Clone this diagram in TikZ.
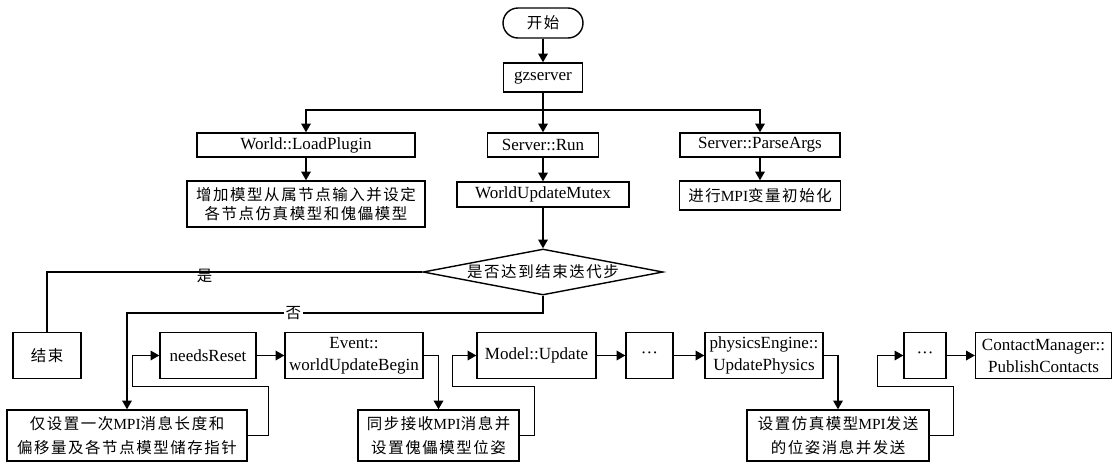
\documentclass[tikz,border=0pt]{standalone}
\usepackage{fontspec}
\setmainfont{Liberation Serif}
\newfontfamily\cjk[LetterSpace=10]{Noto Sans CJK SC}
\usetikzlibrary{arrows.meta, shapes.geometric, calc}
\newcommand{\mpitext}{{\rmfamily MPI}}

\begin{document}
\begin{tikzpicture}[
  x=0.02cm, y=-0.02cm,
  >={Triangle[length=5pt,width=5.5pt]},
  line width=0.8pt,
  proc/.style={draw, rectangle, inner sep=0pt, align=center,
    font=\fontsize{9.7pt}{12.5pt}\selectfont},
  cn/.style={font=\cjk\fontsize{8.8pt}{14pt}\selectfont},
  row/.style={minimum height=0.92cm},
  decide/.style={draw, diamond, aspect=5.2, inner sep=0pt,
    minimum width=4.8cm, minimum height=0.92cm}
]
\useasboundingbox (0,0) rectangle (1118,464);

% Top part
\node[proc, cn, rounded corners=0.3cm, minimum width=1.6cm, minimum height=0.6cm] (start) at (543,23) {开始};
\node[proc, minimum width=1.58cm, minimum height=0.58cm] (gz) at (543,77.5) {gzserver};
\coordinate (split) at (543,110);

\node[proc, minimum width=4.36cm, minimum height=0.48cm] (load) at (306,145) {World::LoadPlugin};
\node[proc, minimum width=2.22cm, minimum height=0.48cm] (run) at (543,145) {Server::Run};
\node[proc, minimum width=3.2cm, minimum height=0.48cm] (parse) at (760,145) {Server::ParseArgs};

\node[proc, cn, minimum width=4.76cm, minimum height=0.92cm] (addm) at (306,204) {增加模型从属节点输入并设定\\[-3pt]各节点仿真模型和傀儡模型};
\node[proc, minimum width=3.44cm, minimum height=0.5cm] (wum) at (543,194.5) {WorldUpdateMutex};
\node[proc, cn, minimum width=3.22cm, minimum height=0.58cm] (mpiinit) at (760,195.5) {进行\mpitext 变量初始化};

\node[decide, cn] (dec) at (543,272) {是否达到结束迭代步};
\coordinate (no) at (543,313);

% Loop row
\node[proc, cn, row, minimum width=1.36cm] (end) at (47,355.5) {结束};
\node[proc, row, minimum width=1.92cm] (needs) at (208,355.5) {needsReset};
\node[proc, row, minimum width=2.76cm] (event) at (354,355.5) {Event::\\worldUpdateBegin};
\node[proc, row, minimum width=2.38cm] (model) at (536.5,355.5) {Model::Update};
\node[proc, row, minimum width=0.94cm] (dots1) at (649.5,355.5) {···};
\node[proc, row, minimum width=2.36cm] (phys) at (764,355.5) {physicsEngine::\\UpdatePhysics};
\node[proc, row, minimum width=0.84cm] (dots2) at (925,355.5) {···};
\node[proc, row, minimum width=2.72cm] (contact) at (1043.5,355.5) {ContactManager::\\PublishContacts};

% MPI steps
\node[proc, cn, minimum width=4.8cm, minimum height=1.02cm] (once) at (127,435.5) {仅设置一次\mpitext 消息长度和\\偏移量及各节点模型储存指针};
\node[proc, cn, minimum width=3.22cm, minimum height=1.02cm] (sync) at (438.5,435.5) {同步接收\mpitext 消息并\\设置傀儡模型位姿};
\node[proc, cn, minimum width=3.64cm, minimum height=1.02cm] (send) at (838,435.5) {设置仿真模型\mpitext 发送\\的位姿消息并发送};

% Connectors
\foreach \a/\b in {start/gz, load/addm, run/wum, parse/mpiinit, wum/dec,
  needs/event, model/dots1, dots1/phys, dots2/contact}
  \draw[->] (\a) -- (\b);
\draw (gz) -- (split);
\draw[->] (split) -| (load);
\draw[->] (split) -- (run);
\draw[->] (split) -| (parse);

\draw (dec.west) -| (end.north) node[pos=0.29, yshift=-2pt, cn] {是};
\draw[->] (dec.south) -- (no) -| (once.north) node[pos=0.3, fill=white, inner sep=1pt, cn] {否};

\draw[->] (once.east) -- ++(21,0) |- ($(needs.west)+(-27,31)$) |- (needs.west);
\draw[->] (event.east) -| (sync.north);
\draw[->] (sync.east) -- ++(15,0) |- ($(model.west)+(-24,31)$) |- (model.west);
\draw[->] (phys.east) -| (send.north);
\draw[->] (send.east) -- ++(24,0) |- ($(dots2.west)+(-26,31)$) |- (dots2.west);

\end{tikzpicture}
\end{document}
